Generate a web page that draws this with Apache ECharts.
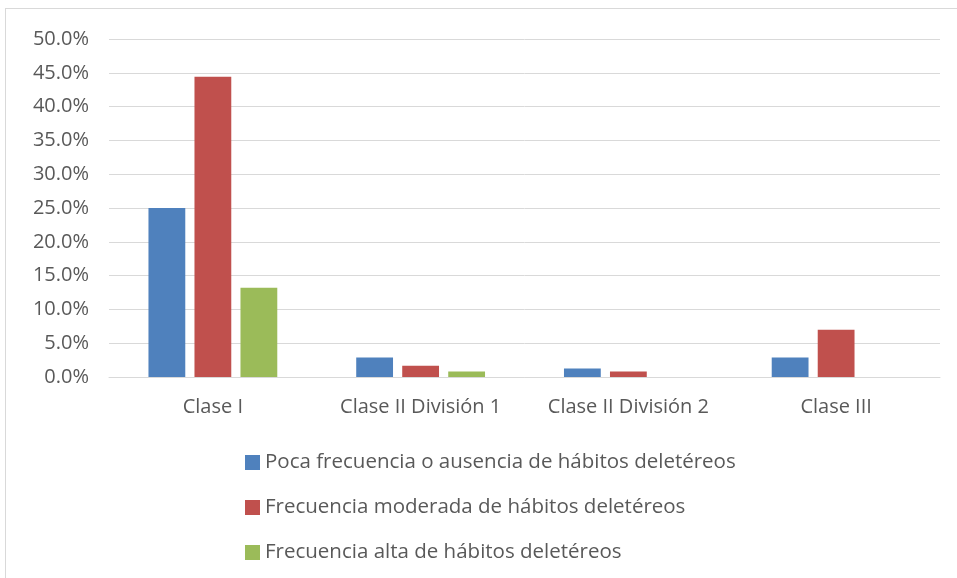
<!DOCTYPE html>
<html>
<head>
<meta charset="utf-8">
<script src="https://cdn.jsdelivr.net/npm/echarts@6/dist/echarts.min.js"></script>
<style>
  html, body { margin: 0; padding: 0; background: #fff; }
  #frame { position: absolute; left: 5px; top: 8px; width: 960px; height: 580px; border: 1px solid #d9d9d9; box-sizing: border-box; }
  #main { position: absolute; left: 0; top: 0; width: 957px; height: 578px; }
</style>
</head>
<body>
<div id="frame"></div>
<div id="main"></div>
<script>
// categories and series values (percent)
const categories = ['Clase I', 'Clase II División 1', 'Clase II División 2', 'Clase III'];
const pocaFrecuencia = [25.0, 2.9, 1.25, 2.9];
const frecuenciaModerada = [44.4, 1.65, 0.8, 7.0];
const frecuenciaAlta = [13.2, 0.8, null, null];

const seriesNames = [
    'Poca frecuencia o ausencia de hábitos deletéreos',
    'Frecuencia moderada de hábitos deletéreos',
    'Frecuencia alta de hábitos deletéreos'
];
const colors = ['#4f81bd', '#c0504d', '#9bbb59'];
const font = '"Open Sans", sans-serif';

let options = {
    animation: false,
    color: colors,
    grid: { left: 109, right: 17, top: 39, bottom: 201 },
    legend: {
        orient: 'vertical',
        left: 240,
        top: 447,
        itemGap: 24,
        itemWidth: 15,
        itemHeight: 15,
        itemStyle: { borderWidth: 0 },
        icon: 'rect',
        textStyle: { color: '#595959', fontSize: 20.5, fontFamily: font },
        data: seriesNames
    },
    xAxis: {
        type: 'category',
        data: categories,
        axisLine: { lineStyle: { color: '#d9d9d9', width: 1 } },
        axisTick: { show: false },
        axisLabel: { color: '#595959', fontSize: 20, fontFamily: font, margin: 20, interval: 0, hideOverlap: false }
    },
    yAxis: {
        type: 'value',
        min: 0,
        max: 50,
        interval: 5,
        axisLine: { show: false },
        axisTick: { show: false },
        splitLine: { lineStyle: { color: '#d9d9d9', width: 1 } },
        axisLabel: {
            color: '#595959', fontSize: 20, fontFamily: font, margin: 20,
            formatter: (v) => v.toFixed(1) + '%'
        }
    },
    series: [
        { name: seriesNames[0], type: 'bar', data: pocaFrecuencia, barGap: '25%', barCategoryGap: '38%' },
        { name: seriesNames[1], type: 'bar', data: frecuenciaModerada },
        { name: seriesNames[2], type: 'bar', data: frecuenciaAlta }
    ]
};

let myChart = echarts.init(document.getElementById('main'));
myChart.setOption(options);
</script>
</body>
</html>
